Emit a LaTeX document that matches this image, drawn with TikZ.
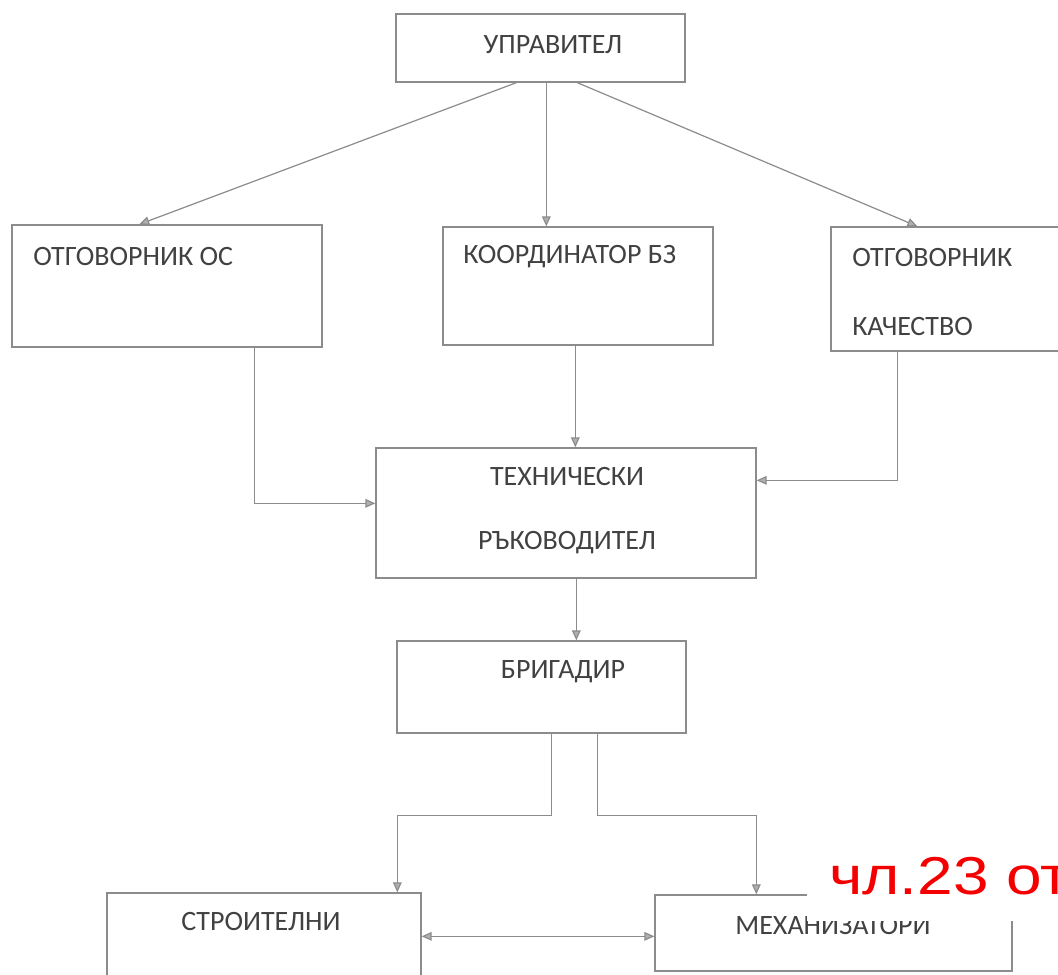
\documentclass[tikz,border=0pt]{standalone}
\usepackage{fontspec}
\setmainfont{Carlito}
\newfontfamily\redfont{Liberation Sans}
\usetikzlibrary{arrows.meta,calc,fit}
\definecolor{lincol}{RGB}{140,140,140}
\definecolor{txtcol}{RGB}{65,65,65}
\definecolor{redlbl}{RGB}{245,0,0}
\tikzset{
  box/.style={draw=lincol, line width=1pt, inner sep=0pt},
  txt/.style={text=txtcol, font=\fontsize{21}{24}\selectfont, inner sep=0pt},
  conn/.style={draw=lincol, line width=0.9pt, -{Triangle[length=7.5pt,width=6.5pt,fill=lincol!70]}},
  conn2/.style={draw=lincol, line width=0.9pt, {Triangle[length=7.5pt,width=6.5pt,fill=lincol!70]}-{Triangle[length=7.5pt,width=6.5pt,fill=lincol!70]}}
}
\begin{document}
\begin{tikzpicture}[x=0.75pt,y=-0.75pt]
\clip (0,0) rectangle (1058,975);
\fill[white] (0,0) rectangle (1058,975);
% boxes
\node[box, fit={(396,14) (685,82)}] (mgr) {};
\node[box, fit={(12,225) (322,347)}] (os) {};
\node[box, fit={(443,227) (713,345)}] (bz) {};
\node[box, fit={(831,227) (1080,351)}] (qa) {};
\node[box, fit={(376,448) (756,578)}] (tr) {};
\node[box, fit={(397,641) (686,733)}] (br) {};
\node[box, fit={(107,893) (421,995)}] (st) {};
\node[box, fit={(655,895) (1012,971)}] (me) {};
% texts
\node[txt] (tmgr) at (553,45) {УПРАВИТЕЛ};
\node[txt,anchor=west] (tos) at (33,257) {ОТГОВОРНИК ОС};
\node[txt,anchor=west] (tbz) at (463,257) {КООРДИНАТОР БЗ};
\node[txt,anchor=west] (tqa1) at (852,258) {ОТГОВОРНИК};
\node[txt,anchor=west] (tqa2) at (852,327) {КАЧЕСТВО};
\node[txt] (ttr1) at (567,477) {ТЕХНИЧЕСКИ};
\node[txt] (ttr2) at (567,543) {РЪКОВОДИТЕЛ};
\node[txt] (tbr) at (563,672) {БРИГАДИР};
\node[txt] (tst) at (261,922) {СТРОИТЕЛНИ};
\node[txt] (tme) at (833,926) {МЕХАНИЗАТОРИ};
% connectors
\draw[conn] ($(mgr.south west)+(121,0)$) -- ($(os.north west)+(128,0)$);
\draw[conn] ($(mgr.south west)+(151,0)$) -- ($(bz.north west)+(104,0)$);
\draw[conn] ($(mgr.south west)+(182,0)$) -- ($(qa.north west)+(87,0)$);
\draw[conn] ($(os.south west)+(243,0)$) |- ($(tr.north west)+(0,56)$);
\draw[conn] ($(bz.south west)+(133,0)$) -- ($(tr.north west)+(200,0)$);
\draw[conn] ($(qa.south west)+(67,0)$) |- ($(tr.north east)+(0,33)$);
\draw[conn] ($(tr.south west)+(201,0)$) -- ($(br.north west)+(180,0)$);
\draw[conn] ($(br.south west)+(155,0)$) -- ++(0,82) -| ($(st.north west)+(291,0)$);
\draw[conn] ($(br.south west)+(201,0)$) -- ++(0,82) -| ($(me.north west)+(102,0)$);
\draw[conn2] ($(st.north east)+(0,44)$) -- ($(me.north west)+(0,42)$);
% stamp overlay
\fill[white] (807,838) rectangle (1060,921);
\node[anchor=base west, inner sep=0pt, xscale=1.2, text=redlbl, font=\redfont\fontsize{40}{46}\selectfont] (stamp) at (829,894) {чл.23 от};
\end{tikzpicture}
\end{document}
